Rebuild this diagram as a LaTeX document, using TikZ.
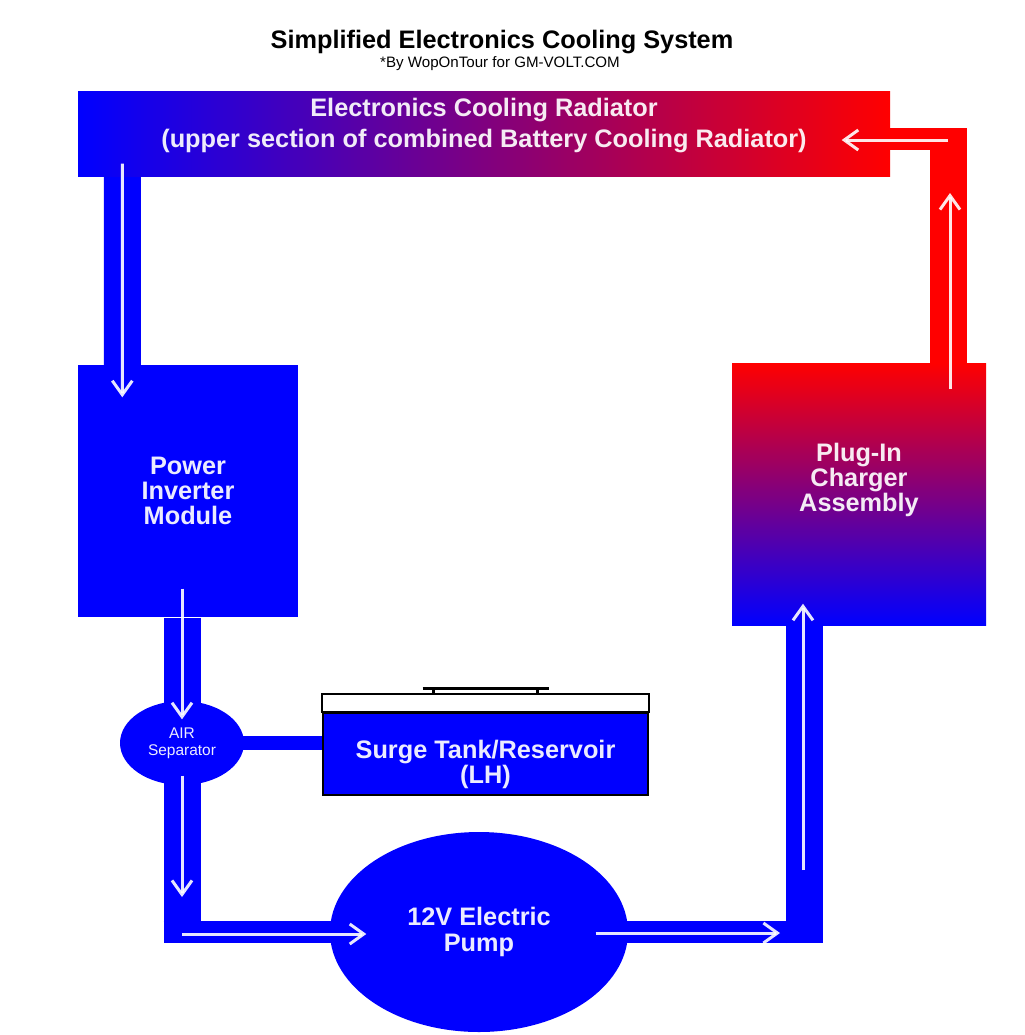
\documentclass[tikz,border=0pt]{standalone}
\usepackage{fontspec}
\setmainfont{Liberation Sans}
\usetikzlibrary{calc, positioning, shapes.geometric, backgrounds, arrows.meta}

\begin{document}
\begin{tikzpicture}[x=0.1mm, y=-0.1mm,
  box/.style={rectangle, inner sep=0pt, text=white, text opacity=.92, align=center,
              font=\bfseries\fontsize{7.2}{7.1}\selectfont},
  vpipe/.style={draw=#1, line width=3.7mm}, vpipe/.default=blue,
  hpipe/.style={draw=#1, line width=2.2mm}, hpipe/.default=blue,
  flow/.style={draw=white, draw opacity=.9, line width=.3mm,
               -{Straight Barb[length=1.4mm,width=2mm]}}]

\useasboundingbox (0,0) rectangle (1025,1035);

% heading
\node[anchor=base, font=\bfseries\fontsize{7.2}{8}\selectfont] (title) at (502,48)
     {Simplified Electronics Cooling System};
\node[anchor=base, font=\fontsize{4.3}{5}\selectfont] (credit) at (500,67)
     {*By WopOnTour for GM-VOLT.COM};

% components
\node[box, minimum width=81.2mm, minimum height=8.5mm, left color=blue, right color=red,
      label={[box, yshift=.8mm, font=\bfseries\fontsize{7.2}{8.8}\selectfont]center:{Electronics Cooling Radiator\\(upper section of combined Battery Cooling Radiator)}}]
      (rad) at (484,133.5) {};
\node[box, minimum width=22mm, minimum height=25.2mm, fill=blue] (inv) at (188,491)
     {Power\\Inverter\\Module};
\node[box, minimum width=25.4mm, minimum height=26.2mm, top color=red, bottom color=blue,
      label={[box, yshift=1.4mm]center:{Plug-In\\Charger\\Assembly}}]
      (chg) at (859,494) {};
\node[box, ellipse, minimum width=12.4mm, minimum height=8.4mm, fill=blue,
      font=\fontsize{4.4}{4.8}\selectfont] (sep) at (182,743) {AIR\\Separator};
\node[box, minimum width=32.5mm, minimum height=8.2mm, fill=blue, draw=black, line width=.2mm,
      label={[box, yshift=-1.05mm]center:{Surge Tank/Reservoir\\(LH)}}]
      (tank) at (485.5,754) {};
\node[box, ellipse, minimum width=29.8mm, minimum height=20mm, fill=blue,
      font=\bfseries\fontsize{7.2}{7.6}\selectfont] (pump) at (479,932)
     {12V Electric\\Pump};

% tank air space and filler cap
\draw[black, line width=.2mm, fill=white] (tank.north west) rectangle ($(tank.north east)+(0,-18)$);
\coordinate (lid) at ($(tank.north)+(0,-18)$);
\draw[line width=.3mm] ($(lid)+(-63,-6)$) -- ($(lid)+(63,-6)$)
      ($(lid)+(-52,-6)$) -- ($(lid)+(-52,0)$)
      ($(lid)+(52,-6)$) -- ($(lid)+(52,0)$);

\coordinate (riser) at ($(chg.south)+(-55,0)$);
\coordinate (ret)   at ($(chg.north)+(89,0)$);
\coordinate (inlet) at ($(rad.east)+(-40,5.5)$);

% coolant lines
\begin{scope}[on background layer]
  \fill[white] (0,0) rectangle (1025,1035);
  \draw[vpipe] ($(rad.south west)+(45,-5)$) -- ($(inv.north west)+(45,5)$);
  \draw[vpipe] (inv.south -| sep.north) -- (sep.center);
  \draw[vpipe] (sep.center) -- ($(sep |- pump.center)+(0,11)$);
  \draw[hpipe] ($(sep |- pump.center)+(-18.5,0)$) -- (pump.center);
  \draw[hpipe, line width=1.4mm] (sep.center) -- (sep.center -| tank.west);
  \draw[hpipe] (pump.center) -- ($(riser |- pump.center)+(18.5,0)$);
  \draw[vpipe] ($(riser |- pump.center)+(0,11)$) -- ($(riser)+(0,-5)$);
  \draw[vpipe=red] ($(ret)+(0,5)$) -- ($(ret |- inlet)+(0,-11)$);
  \draw[hpipe=red] (inlet) -- ($(ret |- inlet)+(18,0)$);
\end{scope}

% flow direction
\draw[flow] ($(rad.south west)+(45,-13)$) -- ($(inv.north west)+(45,33)$);
\draw[flow] ($(inv.south -| sep.north)+(0,-29)$) -- ($(sep.north)+(0,19)$);
\draw[flow] ($(sep.south)+(0,-10)$) -- ($(sep |- pump.center)+(0,-35)$);
\draw[flow] ($(sep |- pump.center)+(0,2)$) -- ($(pump.west)+(37,2)$);
\draw[flow] ($(pump.east)+(-33,1)$) -- ($(riser |- pump.center)+(-24,1)$);
\draw[flow] ($(riser |- pump.center)+(-1,-62)$) -- ($(riser)+(-1,-22)$);
\draw[flow] ($(ret)+(2,27)$) -- ($(ret |- inlet)+(2,54)$);
\draw[flow] ($(ret |- inlet)+(0,1)$) -- ($(rad.east)+(-49,6.5)$);

\end{tikzpicture}
\end{document}
